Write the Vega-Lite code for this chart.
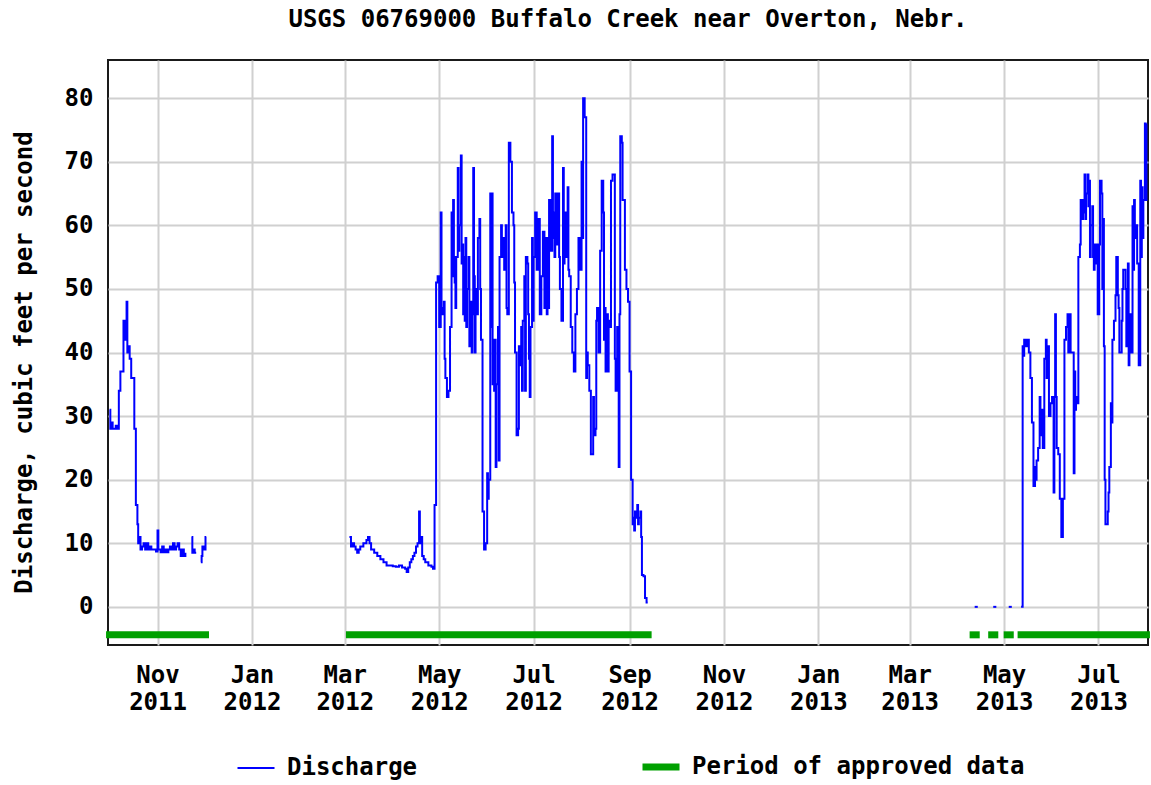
{
"$schema": "https://vega.github.io/schema/vega-lite/v6.json",
"width": 1040, "height": 585,
"autosize": {"type": "none"},
"padding": {"left": 108, "top": 60, "right": 3, "bottom": 140},
"background": "white",
"title": {"text": "USGS 06769000 Buffalo Creek near Overton, Nebr.", "anchor": "middle", "frame": "group", "font": "DejaVu Sans Mono", "fontSize": 24, "fontWeight": "bold", "color": "#000000", "baseline": "alphabetic", "offset": 9},
"datasets": {
"q": [
{"d":"2011-10-01","q":31,"s":1},{"d":"2011-10-01T12:00Z","q":28,"s":1},{"d":"2011-10-02","q":29,"s":1},{"d":"2011-10-03","q":28,"s":1},{"d":"2011-10-05","q":28.5,"s":1},{"d":"2011-10-06","q":28,"s":1},{"d":"2011-10-07","q":34,"s":1},{"d":"2011-10-08","q":37,"s":1},{"d":"2011-10-10","q":45,"s":1},{"d":"2011-10-11","q":42,"s":1},{"d":"2011-10-12","q":48,"s":1},{"d":"2011-10-12T12:00Z","q":40,"s":1},{"d":"2011-10-13","q":41,"s":1},{"d":"2011-10-14","q":39,"s":1},{"d":"2011-10-15","q":36,"s":1},{"d":"2011-10-17","q":28,"s":1},{"d":"2011-10-18","q":16,"s":1},{"d":"2011-10-19","q":13,"s":1},{"d":"2011-10-19T12:00Z","q":10,"s":1},{"d":"2011-10-20","q":11,"s":1},{"d":"2011-10-21","q":9,"s":1},{"d":"2011-10-22","q":9.5,"s":1},{"d":"2011-10-23","q":10,"s":1},{"d":"2011-10-24","q":9,"s":1},{"d":"2011-10-25","q":10,"s":1},{"d":"2011-10-26","q":9,"s":1},{"d":"2011-10-27","q":9.5,"s":1},{"d":"2011-10-28","q":9,"s":1},{"d":"2011-10-30","q":9,"s":1},{"d":"2011-10-31","q":8.7,"s":1},{"d":"2011-11-01","q":12,"s":1},{"d":"2011-11-01T12:00Z","q":9,"s":1},{"d":"2011-11-02","q":9,"s":1},{"d":"2011-11-03","q":8.6,"s":1},{"d":"2011-11-04","q":9.5,"s":1},{"d":"2011-11-05","q":8.6,"s":1},{"d":"2011-11-06","q":9,"s":1},{"d":"2011-11-07","q":8.6,"s":1},{"d":"2011-11-08","q":9,"s":1},{"d":"2011-11-09","q":9.5,"s":1},{"d":"2011-11-10","q":9,"s":1},{"d":"2011-11-11","q":10,"s":1},{"d":"2011-11-12","q":9,"s":1},{"d":"2011-11-13","q":9.5,"s":1},{"d":"2011-11-14","q":10,"s":1},{"d":"2011-11-15","q":9,"s":1},{"d":"2011-11-16","q":8,"s":1},{"d":"2011-11-17","q":9,"s":1},{"d":"2011-11-18","q":8,"s":1},{"d":"2011-11-19","q":8.5,"s":1},
{"d":"2011-11-23","q":11,"s":2},{"d":"2011-11-23T12:00Z","q":8.5,"s":2},{"d":"2011-11-24","q":9,"s":2},{"d":"2011-11-25","q":8.5,"s":2},{"d":"2011-11-26","q":8.5,"s":2},
{"d":"2011-11-29","q":7,"s":3},{"d":"2011-11-29T12:00Z","q":8,"s":3},{"d":"2011-11-30","q":9.5,"s":3},{"d":"2011-12-01","q":9,"s":3},{"d":"2011-12-02","q":11,"s":3},{"d":"2011-12-02T12:00Z","q":11,"s":3},
{"d":"2012-03-04","q":11,"s":4},{"d":"2012-03-05","q":9.5,"s":4},{"d":"2012-03-06","q":10,"s":4},{"d":"2012-03-07","q":9.5,"s":4},{"d":"2012-03-08","q":9,"s":4},{"d":"2012-03-09","q":8.5,"s":4},{"d":"2012-03-10","q":9,"s":4},{"d":"2012-03-11","q":9.5,"s":4},{"d":"2012-03-12","q":9.5,"s":4},{"d":"2012-03-13","q":10,"s":4},{"d":"2012-03-14","q":10,"s":4},{"d":"2012-03-15","q":10.5,"s":4},{"d":"2012-03-16","q":11,"s":4},{"d":"2012-03-17","q":10,"s":4},{"d":"2012-03-18","q":9,"s":4},{"d":"2012-03-19","q":9,"s":4},{"d":"2012-03-20","q":8.5,"s":4},{"d":"2012-03-21","q":8.5,"s":4},{"d":"2012-03-22","q":8,"s":4},{"d":"2012-03-23","q":8,"s":4},{"d":"2012-03-24","q":7.5,"s":4},{"d":"2012-03-25","q":7.5,"s":4},{"d":"2012-03-26","q":7,"s":4},{"d":"2012-03-27","q":7,"s":4},{"d":"2012-03-28","q":6.5,"s":4},{"d":"2012-03-30","q":6.5,"s":4},{"d":"2012-04-01","q":6.4,"s":4},{"d":"2012-04-03","q":6.3,"s":4},{"d":"2012-04-05","q":6.5,"s":4},{"d":"2012-04-07","q":6.2,"s":4},{"d":"2012-04-09","q":6,"s":4},{"d":"2012-04-10","q":5.5,"s":4},{"d":"2012-04-11","q":6.2,"s":4},{"d":"2012-04-12","q":7,"s":4},{"d":"2012-04-13","q":7.5,"s":4},{"d":"2012-04-14","q":8,"s":4},{"d":"2012-04-15","q":8.5,"s":4},{"d":"2012-04-16","q":9.5,"s":4},{"d":"2012-04-17","q":10,"s":4},{"d":"2012-04-18","q":15,"s":4},{"d":"2012-04-18T12:00Z","q":10,"s":4},{"d":"2012-04-19","q":11,"s":4},{"d":"2012-04-20","q":8,"s":4},{"d":"2012-04-21","q":7.5,"s":4},{"d":"2012-04-22","q":7,"s":4},{"d":"2012-04-24","q":6.5,"s":4},{"d":"2012-04-26","q":6.3,"s":4},{"d":"2012-04-27","q":6,"s":4},{"d":"2012-04-28","q":16,"s":4},{"d":"2012-04-29","q":51,"s":4},{"d":"2012-04-30","q":52,"s":4},{"d":"2012-05-01","q":44,"s":4},{"d":"2012-05-02","q":62,"s":4},{"d":"2012-05-02T12:00Z","q":47,"s":4},{"d":"2012-05-03","q":46,"s":4},
{"d":"2012-05-04","q":48,"s":4},{"d":"2012-05-04T12:00Z","q":39,"s":4},{"d":"2012-05-05","q":36,"s":4},{"d":"2012-05-06","q":33,"s":4},{"d":"2012-05-07","q":34,"s":4},{"d":"2012-05-08","q":44,"s":4},{"d":"2012-05-09","q":62,"s":4},{"d":"2012-05-09T12:00Z","q":52,"s":4},{"d":"2012-05-10","q":64,"s":4},{"d":"2012-05-10T12:00Z","q":55,"s":4},{"d":"2012-05-11","q":51,"s":4},{"d":"2012-05-11T12:00Z","q":47,"s":4},{"d":"2012-05-12","q":55,"s":4},{"d":"2012-05-13","q":69,"s":4},{"d":"2012-05-13T12:00Z","q":56,"s":4},{"d":"2012-05-14","q":60,"s":4},{"d":"2012-05-15","q":71,"s":4},{"d":"2012-05-15T12:00Z","q":54,"s":4},{"d":"2012-05-16","q":57,"s":4},{"d":"2012-05-16T12:00Z","q":46,"s":4},{"d":"2012-05-17","q":55,"s":4},{"d":"2012-05-17T12:00Z","q":45,"s":4},{"d":"2012-05-18","q":58,"s":4},{"d":"2012-05-18T12:00Z","q":44,"s":4},{"d":"2012-05-19","q":50,"s":4},{"d":"2012-05-20","q":55,"s":4},{"d":"2012-05-20T12:00Z","q":41,"s":4},{"d":"2012-05-21","q":48,"s":4},{"d":"2012-05-22","q":40,"s":4},{"d":"2012-05-22T12:00Z","q":46,"s":4},{"d":"2012-05-23","q":69,"s":4},{"d":"2012-05-23T12:00Z","q":52,"s":4},{"d":"2012-05-24","q":40,"s":4},{"d":"2012-05-24T12:00Z","q":50,"s":4},{"d":"2012-05-25","q":46,"s":4},{"d":"2012-05-26","q":58,"s":4},{"d":"2012-05-27","q":61,"s":4},{"d":"2012-05-27T12:00Z","q":50,"s":4},{"d":"2012-05-28","q":42,"s":4},{"d":"2012-05-29","q":15,"s":4},{"d":"2012-05-30","q":9,"s":4},{"d":"2012-05-31","q":10,"s":4},{"d":"2012-06-01","q":21,"s":4},{"d":"2012-06-01T12:00Z","q":17,"s":4},{"d":"2012-06-02","q":20,"s":4},{"d":"2012-06-03","q":65,"s":4},{"d":"2012-06-03T12:00Z","q":44,"s":4},{"d":"2012-06-04","q":65,"s":4},{"d":"2012-06-04T12:00Z","q":35,"s":4},{"d":"2012-06-05","q":42,"s":4},{"d":"2012-06-05T12:00Z","q":34,"s":4},{"d":"2012-06-06","q":42,"s":4},{"d":"2012-06-06T12:00Z","q":22,"s":4},{"d":"2012-06-07","q":35,"s":4},{"d":"2012-06-08","q":44,"s":4},{"d":"2012-06-08T12:00Z","q":23,"s":4},{"d":"2012-06-09","q":55,"s":4},{"d":"2012-06-10","q":60,"s":4},{"d":"2012-06-10T12:00Z","q":55,"s":4},{"d":"2012-06-11","q":58,"s":4},{"d":"2012-06-12","q":53,"s":4},{"d":"2012-06-13","q":60,"s":4},{"d":"2012-06-13T12:00Z","q":47,"s":4},{"d":"2012-06-14","q":46,"s":4},{"d":"2012-06-15","q":73,"s":4},{"d":"2012-06-16","q":70,"s":4},{"d":"2012-06-17","q":62,"s":4},{"d":"2012-06-18","q":60,"s":4},{"d":"2012-06-18T12:00Z","q":51,"s":4},{"d":"2012-06-19","q":40,"s":4},{"d":"2012-06-20","q":27,"s":4},{"d":"2012-06-21","q":28,"s":4},{"d":"2012-06-21T12:00Z","q":41,"s":4},{"d":"2012-06-22","q":38,"s":4},{"d":"2012-06-23","q":44,"s":4},{"d":"2012-06-23T12:00Z","q":34,"s":4},{"d":"2012-06-24","q":45,"s":4},{"d":"2012-06-25","q":52,"s":4},{"d":"2012-06-25T12:00Z","q":34,"s":4},{"d":"2012-06-26","q":55,"s":4},{"d":"2012-06-27","q":54,"s":4},{"d":"2012-06-27T12:00Z","q":46,"s":4},{"d":"2012-06-28","q":39,"s":4},{"d":"2012-06-28T12:00Z","q":33,"s":4},{"d":"2012-06-29","q":44,"s":4},{"d":"2012-06-30","q":58,"s":4},{"d":"2012-06-30T12:00Z","q":45,"s":4},{"d":"2012-07-01","q":55,"s":4},{"d":"2012-07-02","q":62,"s":4},{"d":"2012-07-03","q":53,"s":4},{"d":"2012-07-04","q":61,"s":4},{"d":"2012-07-05","q":46,"s":4},{"d":"2012-07-06","q":52,"s":4},{"d":"2012-07-07","q":59,"s":4},{"d":"2012-07-08","q":47,"s":4},{"d":"2012-07-09","q":58,"s":4},{"d":"2012-07-09T12:00Z","q":46,"s":4},
{"d":"2012-07-10","q":58,"s":4},{"d":"2012-07-10T12:00Z","q":47,"s":4},{"d":"2012-07-11","q":64,"s":4},{"d":"2012-07-12","q":56,"s":4},{"d":"2012-07-13","q":74,"s":4},{"d":"2012-07-13T12:00Z","q":58,"s":4},{"d":"2012-07-14","q":62,"s":4},{"d":"2012-07-14T12:00Z","q":55,"s":4},{"d":"2012-07-15","q":65,"s":4},{"d":"2012-07-16","q":57,"s":4},{"d":"2012-07-17","q":65,"s":4},{"d":"2012-07-17T12:00Z","q":55,"s":4},{"d":"2012-07-18","q":50,"s":4},{"d":"2012-07-19","q":45,"s":4},{"d":"2012-07-20","q":69,"s":4},{"d":"2012-07-20T12:00Z","q":54,"s":4},{"d":"2012-07-21","q":62,"s":4},{"d":"2012-07-22","q":55,"s":4},{"d":"2012-07-23","q":66,"s":4},{"d":"2012-07-23T12:00Z","q":53,"s":4},{"d":"2012-07-24","q":52,"s":4},{"d":"2012-07-25","q":44,"s":4},{"d":"2012-07-26","q":40,"s":4},{"d":"2012-07-27","q":37,"s":4},{"d":"2012-07-28","q":46,"s":4},{"d":"2012-07-29","q":50,"s":4},{"d":"2012-07-30","q":58,"s":4},{"d":"2012-07-31","q":53,"s":4},{"d":"2012-08-01","q":70,"s":4},{"d":"2012-08-01T12:00Z","q":58,"s":4},{"d":"2012-08-02","q":80,"s":4},{"d":"2012-08-03","q":77,"s":4},{"d":"2012-08-04","q":36,"s":4},{"d":"2012-08-04T12:00Z","q":40,"s":4},{"d":"2012-08-05","q":38,"s":4},{"d":"2012-08-06","q":34,"s":4},{"d":"2012-08-07","q":24,"s":4},{"d":"2012-08-08","q":24,"s":4},{"d":"2012-08-08T12:00Z","q":33,"s":4},{"d":"2012-08-09","q":27,"s":4},{"d":"2012-08-10","q":28,"s":4},{"d":"2012-08-10T12:00Z","q":45,"s":4},{"d":"2012-08-11","q":47,"s":4},{"d":"2012-08-12","q":40,"s":4},{"d":"2012-08-13","q":56,"s":4},{"d":"2012-08-14","q":67,"s":4},{"d":"2012-08-15","q":62,"s":4},{"d":"2012-08-15T12:00Z","q":42,"s":4},{"d":"2012-08-16","q":47,"s":4},{"d":"2012-08-16T12:00Z","q":37,"s":4},{"d":"2012-08-17","q":46,"s":4},{"d":"2012-08-18","q":37,"s":4},{"d":"2012-08-18T12:00Z","q":45,"s":4},{"d":"2012-08-19","q":44,"s":4},{"d":"2012-08-20","q":67,"s":4},{"d":"2012-08-21","q":68,"s":4},{"d":"2012-08-22","q":68,"s":4},{"d":"2012-08-22T12:00Z","q":39,"s":4},{"d":"2012-08-23","q":34,"s":4},{"d":"2012-08-24","q":44,"s":4},{"d":"2012-08-25","q":22,"s":4},{"d":"2012-08-25T12:00Z","q":46,"s":4},{"d":"2012-08-26","q":74,"s":4},{"d":"2012-08-27","q":73,"s":4},{"d":"2012-08-27T12:00Z","q":64,"s":4},{"d":"2012-08-28","q":64,"s":4},{"d":"2012-08-29","q":53,"s":4},{"d":"2012-08-30","q":50,"s":4},{"d":"2012-08-31","q":48,"s":4},{"d":"2012-09-01","q":37,"s":4},{"d":"2012-09-02","q":20,"s":4},{"d":"2012-09-03","q":13,"s":4},{"d":"2012-09-03T12:00Z","q":14,"s":4},{"d":"2012-09-04","q":12,"s":4},{"d":"2012-09-04T12:00Z","q":15,"s":4},{"d":"2012-09-05","q":14,"s":4},{"d":"2012-09-06","q":16,"s":4},{"d":"2012-09-06T12:00Z","q":13,"s":4},{"d":"2012-09-07","q":14,"s":4},{"d":"2012-09-08","q":15,"s":4},{"d":"2012-09-08T12:00Z","q":11,"s":4},{"d":"2012-09-09","q":5,"s":4},{"d":"2012-09-10","q":4.8,"s":4},{"d":"2012-09-11","q":1.4,"s":4},{"d":"2012-09-12","q":0.7,"s":4},{"d":"2012-09-12T18:00Z","q":0.7,"s":4},
{"d":"2013-04-12","q":0,"s":5},{"d":"2013-04-14","q":0,"s":5},
{"d":"2013-04-24","q":0,"s":6},{"d":"2013-04-26","q":0,"s":6},
{"d":"2013-05-04","q":0,"s":7},{"d":"2013-05-06","q":0,"s":7},
{"d":"2013-05-12","q":0,"s":8},{"d":"2013-05-13","q":41,"s":8},{"d":"2013-05-13T12:00Z","q":39.5,"s":8},{"d":"2013-05-14","q":42,"s":8},{"d":"2013-05-15","q":41,"s":8},{"d":"2013-05-16","q":42,"s":8},{"d":"2013-05-17","q":40,"s":8},{"d":"2013-05-18","q":36,"s":8},{"d":"2013-05-19","q":29,"s":8},{"d":"2013-05-20","q":19,"s":8},{"d":"2013-05-21","q":22,"s":8},{"d":"2013-05-21T12:00Z","q":20,"s":8},{"d":"2013-05-22","q":23,"s":8},{"d":"2013-05-23","q":25,"s":8},{"d":"2013-05-24","q":33,"s":8},{"d":"2013-05-24T12:00Z","q":27,"s":8},{"d":"2013-05-25","q":31,"s":8},{"d":"2013-05-26","q":25,"s":8},{"d":"2013-05-27","q":39,"s":8},{"d":"2013-05-28","q":42,"s":8},{"d":"2013-05-28T12:00Z","q":36,"s":8},{"d":"2013-05-29","q":41,"s":8},{"d":"2013-05-30","q":30,"s":8},{"d":"2013-05-31","q":32,"s":8},{"d":"2013-06-01","q":33,"s":8},{"d":"2013-06-02","q":18,"s":8},{"d":"2013-06-02T12:00Z","q":33,"s":8},{"d":"2013-06-03","q":46,"s":8},{"d":"2013-06-03T12:00Z","q":33,"s":8},{"d":"2013-06-04","q":25,"s":8},{"d":"2013-06-05","q":24,"s":8},{"d":"2013-06-06","q":17,"s":8},{"d":"2013-06-07","q":11,"s":8},{"d":"2013-06-08","q":17,"s":8},{"d":"2013-06-09","q":42,"s":8},{"d":"2013-06-10","q":44,"s":8},{"d":"2013-06-11","q":46,"s":8},{"d":"2013-06-11T12:00Z","q":40,"s":8},{"d":"2013-06-12","q":46,"s":8},{"d":"2013-06-13","q":40,"s":8},{"d":"2013-06-14","q":40,"s":8},{"d":"2013-06-15","q":21,"s":8},{"d":"2013-06-15T12:00Z","q":37,"s":8},{"d":"2013-06-16","q":31,"s":8},{"d":"2013-06-16T12:00Z","q":33,"s":8},{"d":"2013-06-17","q":32,"s":8},{"d":"2013-06-18","q":55,"s":8},{"d":"2013-06-19","q":57,"s":8},{"d":"2013-06-19T12:00Z","q":64,"s":8},{"d":"2013-06-20","q":61,"s":8},{"d":"2013-06-21","q":64,"s":8},{"d":"2013-06-21T12:00Z","q":62,"s":8},{"d":"2013-06-22","q":68,"s":8},{"d":"2013-06-22T12:00Z","q":61,"s":8},{"d":"2013-06-23","q":65,"s":8},{"d":"2013-06-24","q":68,"s":8},{"d":"2013-06-24T12:00Z","q":63,"s":8},{"d":"2013-06-25","q":67,"s":8},{"d":"2013-06-25T12:00Z","q":55,"s":8},{"d":"2013-06-26","q":60,"s":8},{"d":"2013-06-27","q":63,"s":8},{"d":"2013-06-27T12:00Z","q":55,"s":8},{"d":"2013-06-28","q":53,"s":8},{"d":"2013-06-28T12:00Z","q":57,"s":8},{"d":"2013-06-29","q":54,"s":8},{"d":"2013-06-30","q":57,"s":8},{"d":"2013-06-30T12:00Z","q":46,"s":8},{"d":"2013-07-01","q":46,"s":8},{"d":"2013-07-01T12:00Z","q":57,"s":8},{"d":"2013-07-02","q":67,"s":8},{"d":"2013-07-03","q":65,"s":8},{"d":"2013-07-03T12:00Z","q":50,"s":8},{"d":"2013-07-04","q":61,"s":8},{"d":"2013-07-04T12:00Z","q":41,"s":8},{"d":"2013-07-05","q":20,"s":8},{"d":"2013-07-05T12:00Z","q":13,"s":8},{"d":"2013-07-06","q":13,"s":8},{"d":"2013-07-07","q":15,"s":8},{"d":"2013-07-07T12:00Z","q":18,"s":8},{"d":"2013-07-08","q":22,"s":8},{"d":"2013-07-09","q":32,"s":8},{"d":"2013-07-09T12:00Z","q":29,"s":8},{"d":"2013-07-10","q":42,"s":8},{"d":"2013-07-11","q":45,"s":8},{"d":"2013-07-12","q":49,"s":8},{"d":"2013-07-12T12:00Z","q":55,"s":8},{"d":"2013-07-13","q":55,"s":8},{"d":"2013-07-13T12:00Z","q":49,"s":8},{"d":"2013-07-14","q":47,"s":8},{"d":"2013-07-14T12:00Z","q":40,"s":8},{"d":"2013-07-15","q":40,"s":8},{"d":"2013-07-16","q":45,"s":8},{"d":"2013-07-16T12:00Z","q":50,"s":8},{"d":"2013-07-17","q":53,"s":8},{"d":"2013-07-18","q":53,"s":8},{"d":"2013-07-18T12:00Z","q":50,"s":8},{"d":"2013-07-19","q":41,"s":8},{"d":"2013-07-20","q":54,"s":8},{"d":"2013-07-20T12:00Z","q":38,"s":8},{"d":"2013-07-21","q":46,"s":8},{"d":"2013-07-22","q":40,"s":8},{"d":"2013-07-23","q":63,"s":8},{"d":"2013-07-23T12:00Z","q":53,"s":8},{"d":"2013-07-24","q":64,"s":8},{"d":"2013-07-24T12:00Z","q":58,"s":8},{"d":"2013-07-25","q":60,"s":8},{"d":"2013-07-26","q":54,"s":8},{"d":"2013-07-27","q":38,"s":8},{"d":"2013-07-28","q":67,"s":8},{"d":"2013-07-28T12:00Z","q":55,"s":8},{"d":"2013-07-29","q":66,"s":8},{"d":"2013-07-29T12:00Z","q":58,"s":8},{"d":"2013-07-30","q":64,"s":8},{"d":"2013-07-31","q":76,"s":8},{"d":"2013-07-31T12:00Z","q":64,"s":8},{"d":"2013-08-01","q":76,"s":8}
],
"a": [
{"start":"2011-10-01","end":"2011-12-02"},
{"start":"2012-03-04","end":"2012-09-13"},
{"start":"2013-04-11","end":"2013-04-13"},
{"start":"2013-04-23","end":"2013-04-25"},
{"start":"2013-05-03","end":"2013-05-05"},
{"start":"2013-05-12","end":"2013-08-01"}
]
},
"layer": [
{
"data": {"name": "a"},
"mark": {"type": "rule", "strokeCap": "square", "strokeWidth": 7, "clip": false},
"encoding": {
"x": {"field": "start", "type": "temporal"},
"x2": {"field": "end"},
"y": {"datum": -4.4, "type": "quantitative"},
"color": {"datum": "Period of approved data", "type": "nominal"}
}
},
{
"data": {"name": "q"},
"mark": {"type": "line", "interpolate": "step-after", "strokeWidth": 2, "clip": true},
"encoding": {
"x": {"field": "d", "type": "temporal",
"scale": {"type": "utc", "domain": [{"year": 2011, "month": 9, "date": 30, "utc": true}, {"year": 2013, "month": 8, "date": 2, "utc": true}]},
"axis": {"title": null, "grid": true, "domain": false, "ticks": false, "labelPadding": 18, "labelBaseline": "top", "labelLineHeight": 27, "labelFlush": false, "labelOverlap": false,
"values": [{"year": 2011, "month": 11, "date": 1, "utc": true}, {"year": 2012, "month": 1, "date": 1, "utc": true}, {"year": 2012, "month": 3, "date": 1, "utc": true}, {"year": 2012, "month": 5, "date": 1, "utc": true}, {"year": 2012, "month": 7, "date": 1, "utc": true}, {"year": 2012, "month": 9, "date": 1, "utc": true}, {"year": 2012, "month": 11, "date": 1, "utc": true}, {"year": 2013, "month": 1, "date": 1, "utc": true}, {"year": 2013, "month": 3, "date": 1, "utc": true}, {"year": 2013, "month": 5, "date": 1, "utc": true}, {"year": 2013, "month": 7, "date": 1, "utc": true}],
"labelExpr": "[utcFormat(datum.value, '%b'), utcFormat(datum.value, '%Y')]"}},
"y": {"field": "q", "type": "quantitative",
"scale": {"domain": [-6, 86], "nice": false, "zero": false},
"axis": {"title": "Discharge, cubic feet per second", "values": [0, 10, 20, 30, 40, 50, 60, 70, 80], "grid": true, "domain": false, "ticks": false, "labelPadding": 15, "titleX": -84, "titleY": 302, "titleBaseline": "middle", "titleAlign": "center"}},
"detail": {"field": "s", "type": "nominal"},
"color": {"datum": "Discharge", "type": "nominal",
"scale": {"domain": ["Discharge", "Period of approved data"], "range": ["#0000ff", "#00a000"]},
"legend": {"title": null, "encoding": {"symbols": {"strokeWidth": {"value": {"expr": "datum.value === 'Discharge' ? 2 : 7"}}}}}}
}
}
],
"config": {
"view": {"stroke": "#1a1a1a", "strokeWidth": 2},
"axis": {"labelFont": "DejaVu Sans Mono", "labelFontSize": 24, "labelFontWeight": "bold", "labelColor": "#000000", "titleFont": "DejaVu Sans Mono", "titleFontSize": 24, "titleFontWeight": "bold", "titleColor": "#000000", "gridColor": "#d0d0d0", "gridWidth": 2, "gridOpacity": 1},
"legend": {"orient": "none", "legendX": 136, "legendY": 695, "direction": "horizontal", "symbolType": "stroke", "symbolSize": 1369, "symbolStrokeWidth": 7, "labelFont": "DejaVu Sans Mono", "labelFontSize": 24, "labelFontWeight": "bold", "labelColor": "#000000", "labelOffset": 19, "labelLimit": 500, "columnPadding": 210, "padding": 0, "symbolOpacity": 1}
}
}
